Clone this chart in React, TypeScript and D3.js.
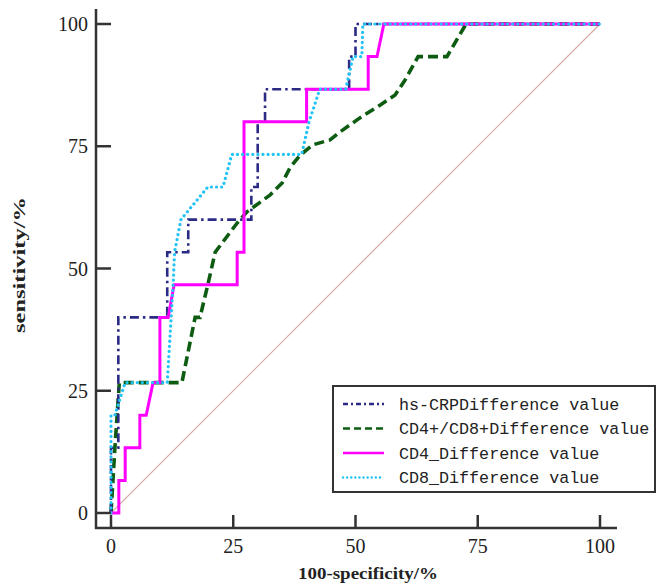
import React from "react";
import * as d3 from "d3";

type Pt = [number, number];

const xTicks = [0, 25, 50, 75, 100];
const yTicks = [0, 25, 50, 75, 100];

const seriesNames = [
  "hs-CRPDifference value",
  "CD4+/CD8+Difference value",
  "CD4_Difference value",
  "CD8_Difference value",
];

const hsCrp: Pt[] = [
  [0, 0], [0, 13.33], [1.5, 13.33], [1.5, 40], [11.5, 40], [11.5, 53.33],
  [15.8, 53.33], [15.8, 60], [28.7, 60], [28.7, 66.67], [30, 66.67], [30, 80],
  [31.5, 80], [31.5, 86.67], [48.7, 86.67], [48.7, 93.33], [50, 93.33], [50, 100], [100, 100],
];

const cd4cd8: Pt[] = [
  [0, 0], [0.8, 13.33], [1.7, 26.67], [14.5, 26.67], [17.2, 40], [18.2, 40],
  [19.8, 46.67], [21.3, 53.33], [25.8, 59.3], [27.8, 61.6], [32.5, 65], [35, 67.5],
  [36.6, 70.6], [38.7, 73.2], [41.3, 75.3], [44.8, 76.3], [46.8, 77.9], [50.9, 80.8],
  [55, 83.4], [58.1, 85.5], [60.1, 88.5], [62.8, 93.33], [68.7, 93.33], [72.6, 100], [100, 100],
];

const cd4: Pt[] = [
  [0, 0], [1.6, 0], [1.6, 6.67], [2.9, 6.67], [2.9, 13.33], [5.9, 13.33], [5.9, 20],
  [7.2, 20], [8.6, 26.67], [10, 26.67], [10, 40], [11.7, 40], [12.9, 46.67],
  [25.8, 46.67], [25.8, 53.33], [27.2, 53.33], [27.2, 80], [40, 80], [40, 86.67],
  [52.6, 86.67], [52.6, 93.33], [54.4, 93.33], [55.8, 100], [100, 100],
];

const cd8: Pt[] = [
  [0, 0], [0, 20], [0.8, 20], [2.9, 26.67], [11.5, 26.67], [12.7, 46.67], [13, 53.33],
  [14.3, 60], [19.8, 66.67], [22.9, 66.67], [24.7, 73.33], [39, 73.33], [40.5, 80],
  [42.7, 86.67], [48, 86.67], [49.5, 93.33], [51.3, 93.33], [51.5, 100], [100, 100],
];

const diag: Pt[] = [[0, 0], [100, 100]];

const styles = [
  { color: "#2b2b85", width: 2.6, dash: "9 4 2.5 4", cap: "butt" },
  { color: "#0d5c12", width: 3.6, dash: "10 5", cap: "butt" },
  { color: "#ff00ff", width: 3, dash: "", cap: "butt" },
  { color: "#22c3f5", width: 3.2, dash: "0.1 5", cap: "round" },
];

export default function App() {
  const x = d3.scaleLinear().domain([0, 100]).range([111, 600]);
  const y = d3.scaleLinear().domain([0, 100]).range([513, 24]);
  const line = d3.line<Pt>().x((d) => x(d[0])).y((d) => y(d[1]));
  const data = [hsCrp, cd4cd8, cd4, cd8];
  const drawOrder = [1, 0, 2, 3];
  const axisColor = "#333";
  const legendRows = [404, 428.5, 453, 477.5];

  return (
    <svg
      width={662}
      height={584}
      style={{ position: "absolute", left: 0, top: 0, background: "#fff" }}
    >
      <rect x={0} y={0} width={662} height={584} fill="#fff" />
      {/* diagonal */}
      <path d={line(diag) || ""} stroke="#d6a9a4" strokeWidth={1.2} fill="none" />
      {drawOrder.map((i) => (
        <path
          key={i}
          d={line(data[i]) || ""}
          fill="none"
          stroke={styles[i].color}
          strokeWidth={styles[i].width}
          strokeDasharray={styles[i].dash || undefined}
          strokeLinecap={styles[i].cap as any}
          strokeLinejoin="miter"
        />
      ))}
      {/* axes */}
      <line x1={96} y1={9} x2={96} y2={529} stroke={axisColor} strokeWidth={2.5} />
      <line x1={95} y1={528} x2={617} y2={528} stroke={axisColor} strokeWidth={2.5} />
      {yTicks.map((t) => (
        <g key={"y" + t}>
          <line x1={96} x2={111} y1={y(t)} y2={y(t)} stroke={axisColor} strokeWidth={2.5} />
          <text
            x={88}
            y={y(t)}
            dy="0.35em"
            textAnchor="end"
            fontFamily="'Liberation Serif', serif"
            fontSize={20}
            fill="#222"
          >
            {t}
          </text>
        </g>
      ))}
      {xTicks.map((t) => (
        <g key={"x" + t}>
          <line x1={x(t)} x2={x(t)} y1={528} y2={515} stroke={axisColor} strokeWidth={2.5} />
          <text
            x={x(t)}
            y={553}
            textAnchor="middle"
            fontFamily="'Liberation Serif', serif"
            fontSize={20}
            fill="#222"
          >
            {t}
          </text>
        </g>
      ))}
      <text
        x={368}
        y={579}
        textAnchor="middle"
        fontFamily="'Liberation Serif', serif"
        fontSize={17}
        fontWeight="bold"
        fill="#222"
        textLength={140}
        lengthAdjust="spacingAndGlyphs"
      >
        100-specificity/%
      </text>
      <text
        transform="translate(25,265) rotate(-90)"
        textAnchor="middle"
        fontFamily="'Liberation Serif', serif"
        fontSize={17}
        fontWeight="bold"
        fill="#222"
        textLength={136}
        lengthAdjust="spacingAndGlyphs"
      >
        sensitivity/%
      </text>
      {/* legend */}
      <rect x={333} y={386} width={322} height={106} fill="#fff" stroke={axisColor} strokeWidth={2} />
      {seriesNames.map((name, i) => (
        <g key={name}>
          <line
            x1={343}
            x2={384}
            y1={legendRows[i]}
            y2={legendRows[i]}
            stroke={styles[i].color}
            strokeWidth={i === 1 ? 2.6 : 2.4}
            strokeDasharray={i === 0 ? "5 3 2 3" : i === 1 ? "7 4" : i === 3 ? "0.1 4" : undefined}
            strokeLinecap={styles[i].cap as any}
          />
          <text
            x={399}
            y={legendRows[i]}
            dy="0.35em"
            fontFamily="'Liberation Mono', monospace"
            fontSize={16.7}
            fill="#222"
          >
            {name}
          </text>
        </g>
      ))}
    </svg>
  );
}
